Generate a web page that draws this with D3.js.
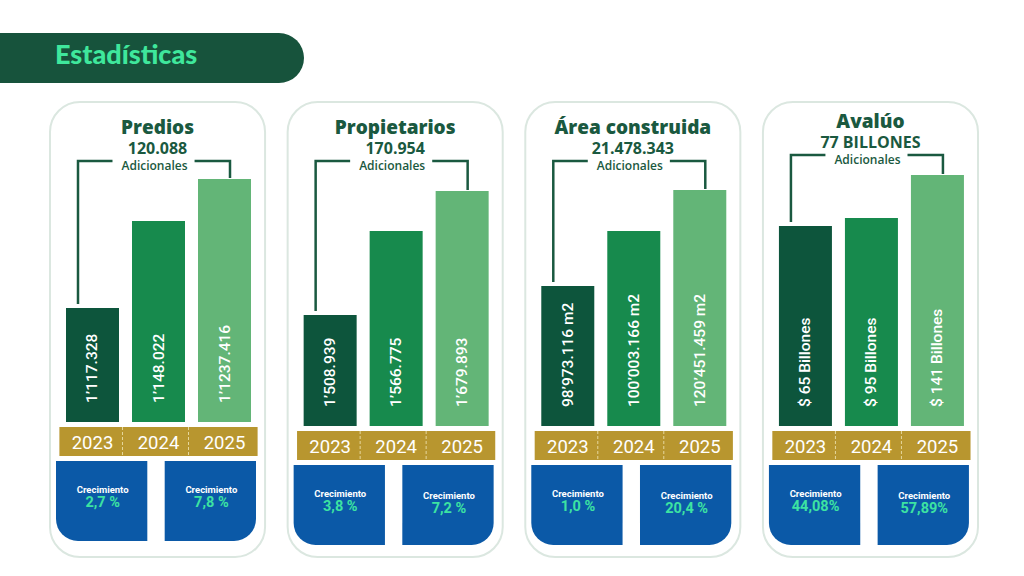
<!DOCTYPE html>
<html>
<head>
<meta charset="utf-8">
<script src="https://cdn.jsdelivr.net/npm/d3@7"></script>
<style>
  body { margin: 0; background: #fff; }
  svg { display: block; }
</style>
</head>
<body>
<svg id="chart"></svg>
<script>
// ---- data ----
var categories = ["Predios", "Propietarios", "Área construida", "Avalúo"];
var additions = ["120.088", "170.954", "21.478.343", "77 BILLONES"];
var years = ["2023", "2024", "2025"];
var valueLabels = [
  ["1’117.328", "1’148.022", "1’1237.416"],
  ["1’508.939", "1’566.775", "1’679.893"],
  ["98’973.116 m2", "100’003.166 m2", "120’451.459 m2"],
  ["$ 65 Billones", "$ 95 Billones", "$ 141 Billones"]
];
// bar heights as drawn (index, 100 = tallest bar)
var barLevels = [
  [45.6, 80.4, 97.2],
  [44.4, 78.0, 94.0],
  [56.0, 78.0, 94.4],
  [80.0, 83.2, 100.4]
];
var growthLabels = [
  ["2,7 %", "7,8 %"],
  ["3,8 %", "7,2 %"],
  ["1,0 %", "20,4 %"],
  ["44,08%", "57,89%"]
];

var width = 1024, height = 576;
var barColors = ["#0d553c", "#178a4d", "#63b577"];
var darkGreen = "#1a5940";

var svg = d3.select("#chart").attr("width", width).attr("height", height);

// header banner
svg.append("rect")
  .attr("x", -40).attr("y", 33).attr("width", 344).attr("height", 50)
  .attr("rx", 25).attr("fill", "#17533c");
svg.append("text")
  .attr("x", 55).attr("y", 64)
  .attr("font-family", "Lato").attr("font-weight", 900).attr("font-size", 27)
  .attr("fill", "#3fe79c")
  .text("Estadísticas");

var xPanel = d3.scaleBand().domain(categories).range([50, 978]).paddingInner(0.095);

// small layout tweaks per panel (vertical shifts seen in the picture)
var bodyShift = [-4, 0, 0, 0];
var headShift = [0, 0, 0, -6];

categories.forEach(function(cat, i) {
  var L = xPanel(cat);
  var W = xPanel.bandwidth();
  var cx = L + W / 2;
  var dy = bodyShift[i], hy = headShift[i];
  var g = svg.append("g").attr("class", "panel");

  g.append("rect")
    .attr("x", L).attr("y", 102).attr("width", W).attr("height", 455)
    .attr("rx", 30).attr("fill", "#fff")
    .attr("stroke", "#dbe7e0").attr("stroke-width", 2);

  // titles
  g.append("text").attr("x", cx).attr("y", 134 + hy)
    .attr("text-anchor", "middle")
    .attr("font-family", "Open Sans").attr("font-weight", 800).attr("font-size", 19)
    .attr("fill", darkGreen).text(cat);
  g.append("text").attr("x", cx).attr("y", 154 + hy)
    .attr("text-anchor", "middle")
    .attr("font-family", "Open Sans").attr("font-weight", 700).attr("font-size", 16)
    .attr("fill", darkGreen).text(additions[i]);
  var adic = g.append("text").attr("x", cx - 3).attr("y", 170 + hy)
    .attr("text-anchor", "middle")
    .attr("font-family", "Open Sans").attr("font-weight", 600).attr("font-size", 12)
    .attr("fill", darkGreen).text("Adicionales");

  // bars
  var x = d3.scaleBand().domain(years)
    .range([L + 9.4, L + 207.6]).paddingInner(0.197).paddingOuter(0.1);
  var bottom = 426 + dy;
  var y = d3.scaleLinear().domain([0, 100]).range([bottom, bottom - 250]);

  g.selectAll("rect.bar").data(years).enter().append("rect")
    .attr("class", "bar")
    .attr("x", function(d) { return x(d); })
    .attr("y", function(d, j) { return y(barLevels[i][j]); })
    .attr("width", x.bandwidth())
    .attr("height", function(d, j) { return bottom - y(barLevels[i][j]); })
    .attr("fill", function(d, j) { return barColors[j]; });

  g.selectAll("text.val").data(years).enter().append("text")
    .attr("class", "val")
    .attr("transform", function(d) {
      return "translate(" + (x(d) + x.bandwidth() / 2) + "," + (bottom - 19) + ") rotate(-90)";
    })
    .attr("dominant-baseline", "central")
    .attr("font-family", "Roboto").attr("font-weight", 500).attr("font-size", 15.5)
    .attr("fill", "#fff")
    .text(function(d, j) { return valueLabels[i][j]; });

  // bracket from first to last bar
  var bw = adic.node().getComputedTextLength();
  var by = 161 + hy;
  var lx = x(years[0]) + 12, rx = x(years[2]) + 32;
  var line = d3.line();
  g.append("path")
    .attr("d", line([[lx, y(barLevels[i][0]) - 4], [lx, by], [cx - 3 - bw / 2 - 9, by]]))
    .attr("fill", "none").attr("stroke", darkGreen).attr("stroke-width", 2.5);
  g.append("path")
    .attr("d", line([[cx - 3 + bw / 2 + 7, by], [rx, by], [rx, y(barLevels[i][2]) - 1]]))
    .attr("fill", "none").attr("stroke", darkGreen).attr("stroke-width", 2.5);

  // year strip
  var r0 = x.range()[0], r1 = x.range()[1];
  var sy = 431 + dy, sh = 29;
  g.append("rect").attr("x", r0).attr("y", sy).attr("width", r1 - r0).attr("height", sh)
    .attr("fill", "#b8962f");
  years.slice(1).forEach(function(d) {
    var sx = x(d) - x.step() * x.paddingInner() / 2 - 3;
    g.append("line").attr("x1", sx).attr("x2", sx).attr("y1", sy).attr("y2", sy + sh)
      .attr("stroke", "#e6d79c").attr("stroke-width", 1).attr("stroke-dasharray", "3,2");
  });
  g.selectAll("text.year").data(years).enter().append("text")
    .attr("class", "year")
    .attr("x", function(d) { return x(d) + x.bandwidth() / 2; })
    .attr("y", sy + sh / 2 + 1)
    .attr("text-anchor", "middle").attr("dominant-baseline", "central")
    .attr("font-family", "Roboto").attr("font-size", 18.5).attr("fill", "#fff")
    .text(function(d) { return d; });

  // growth boxes
  var xb = d3.scaleBand().domain([0, 1]).range([L + 6, L + 206]).paddingInner(0.16);
  var top = 465 + dy, bh = 80, rr = 22;
  growthLabels[i].forEach(function(lbl, k) {
    var bx = xb(k), w = xb.bandwidth();
    var p = d3.path();
    p.moveTo(bx, top);
    p.lineTo(bx + w, top);
    if (k === 1) {
      p.lineTo(bx + w, top + bh - rr);
      p.arcTo(bx + w, top + bh, bx + w - rr, top + bh, rr);
      p.lineTo(bx, top + bh);
    } else {
      p.lineTo(bx + w, top + bh);
      p.lineTo(bx + rr, top + bh);
      p.arcTo(bx, top + bh, bx, top + bh - rr, rr);
    }
    p.closePath();
    g.append("path").attr("d", p.toString()).attr("fill", "#0b59a7");
    var tx = bx + w / 2 + 1;
    var ty = top + 32 + (k === 1 && i > 0 ? 2 : 0);
    g.append("text").attr("x", tx).attr("y", ty)
      .attr("text-anchor", "middle")
      .attr("font-family", "Roboto").attr("font-weight", 700).attr("font-size", 9.5)
      .attr("fill", "#fff").text("Crecimiento");
    g.append("text").attr("x", tx).attr("y", ty + 14)
      .attr("text-anchor", "middle")
      .attr("font-family", "Roboto").attr("font-weight", 700).attr("font-size", 14.5)
      .attr("fill", "#3de3a2").text(lbl);
  });
});
</script>
</body>
</html>
